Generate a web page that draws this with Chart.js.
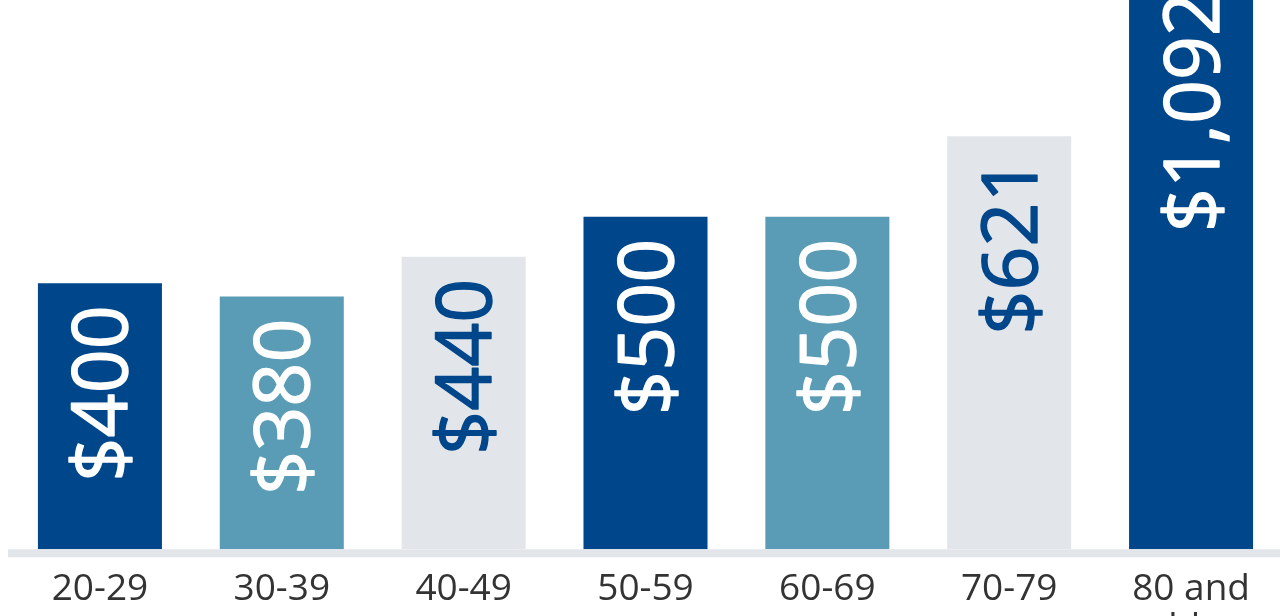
<!DOCTYPE html>
<html>
<head>
<meta charset="utf-8">
<script src="https://cdn.jsdelivr.net/npm/chart.js@4.4.1/dist/chart.umd.min.js"></script>
<style>
  html, body { margin: 0; padding: 0; background: #ffffff; overflow: hidden; }
  #wrap { position: absolute; left: 0; top: 0; width: 1290px; height: 669px; }
</style>
</head>
<body>
<div id="wrap"><canvas id="c" width="1290" height="669"></canvas></div>
<script>
const categories = ['20-29', '30-39', '40-49', '50-59', '60-69', '70-79', ['80 and', 'older']];
const values = [400, 380, 440, 500, 500, 621, 1092];
const valueLabels = ['$400', '$380', '$440', '$500', '$500', '$621', '$1,092'];

const DARK = '#00468b', TEAL = '#5a9cb6', GRAY = '#e2e6ea';
const barColors = [DARK, TEAL, GRAY, DARK, TEAL, GRAY, DARK];
const labelColors = ['#ffffff', '#ffffff', DARK, '#ffffff', '#ffffff', DARK, '#ffffff'];

const baselinePlugin = {
  id: 'baseline',
  beforeDatasetsDraw(chart) {
    const { ctx, chartArea } = chart;
    ctx.save();
    ctx.fillStyle = GRAY;
    ctx.fillRect(chartArea.left - 1, chartArea.bottom, chart.width, 8);
    ctx.restore();
  }
};

const valueLabelPlugin = {
  id: 'valueLabels',
  afterDatasetsDraw(chart) {
    const { ctx, chartArea } = chart;
    const meta = chart.getDatasetMeta(0);
    const fs = 77;
    ctx.save();
    ctx.font = `400 ${fs}px "Open Sans"`;
    meta.data.forEach((bar, i) => {
      const top = Math.max(bar.y, chartArea.top - 30);
      ctx.save();
      ctx.translate(bar.x + fs * 0.357, top + 22);
      ctx.rotate(-Math.PI / 2);
      ctx.textAlign = 'right';
      ctx.textBaseline = 'alphabetic';
      ctx.fillStyle = labelColors[i];
      ctx.strokeStyle = labelColors[i];
      ctx.lineWidth = 1.4;
      ctx.lineJoin = 'round';
      ctx.fillText(valueLabels[i], 0, 0);
      ctx.strokeText(valueLabels[i], 0, 0);
      ctx.restore();
    });
    ctx.restore();
  }
};

new Chart(document.getElementById('c'), {
  type: 'bar',
  data: {
    labels: categories,
    datasets: [{
      data: values,
      backgroundColor: barColors,
      borderWidth: 0,
      barPercentage: 0.682,
      categoryPercentage: 1.0
    }]
  },
  options: {
    responsive: false,
    animation: false,
    layout: { padding: { left: 9, right: 8, top: 0, bottom: 0 } },
    plugins: { legend: { display: false }, tooltip: { enabled: false } },
    scales: {
      x: {
        grid: { display: false, drawTicks: false },
        border: { display: false },
        ticks: {
          color: '#333333',
          padding: 21,
          font: { family: 'Open Sans', size: 37, lineHeight: 1.05 },
          maxRotation: 0,
          autoSkip: false
        }
      },
      y: {
        display: false,
        min: 0,
        max: 826
      }
    }
  },
  plugins: [baselinePlugin, valueLabelPlugin]
});
</script>
</body>
</html>
